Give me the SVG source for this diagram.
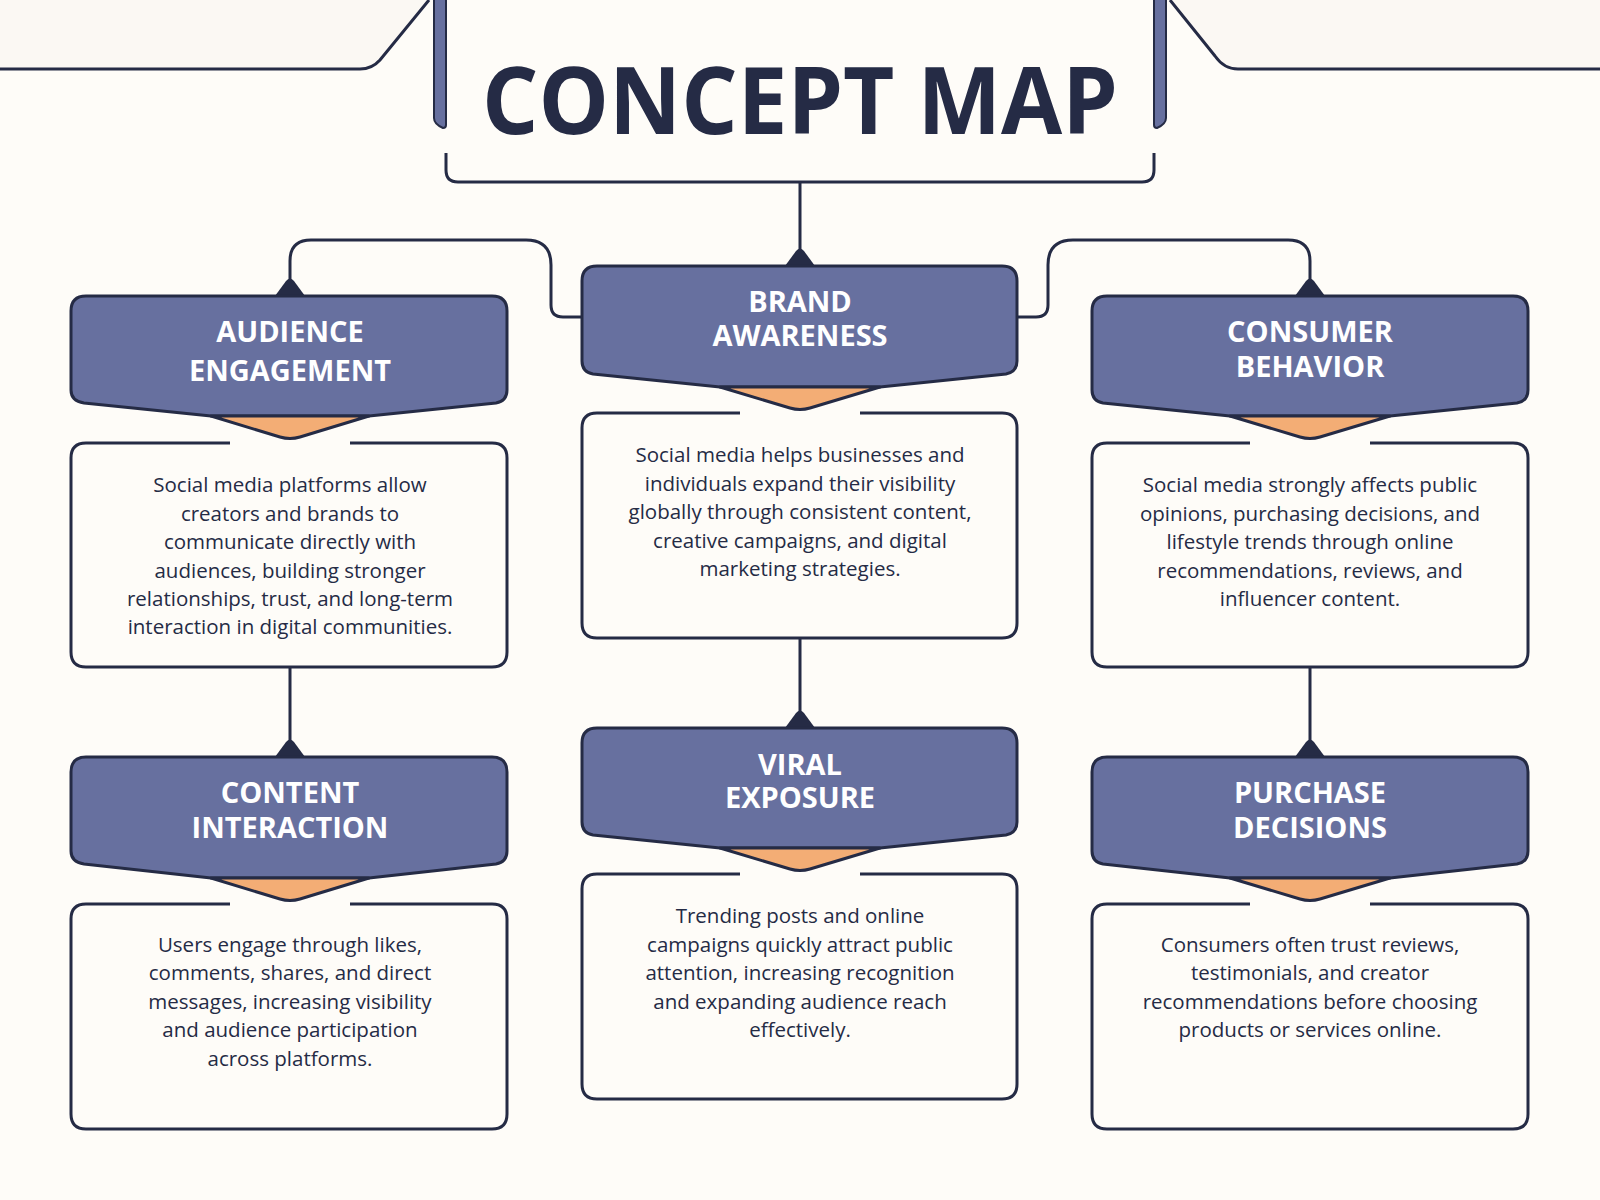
<svg xmlns="http://www.w3.org/2000/svg" width="1600" height="1200" viewBox="0 0 1600 1200">
<defs>
<style>
.hd{fill:#67709f;stroke:#252b45;stroke-width:3;stroke-linejoin:round}
.or{fill:#f3ad75;stroke:#252b45;stroke-width:3;stroke-linejoin:round}
.bx{fill:none;stroke:#252b45;stroke-width:3}
.ln{fill:none;stroke:#252b45;stroke-width:3}
.ht{font-family:"Open Sans","Liberation Sans",sans-serif;font-weight:700;font-size:29px;fill:#fff;text-anchor:middle}
.bt{font-family:"Open Sans","Liberation Sans",sans-serif;font-size:20.5px;fill:#252b45;text-anchor:middle}
.cap{fill:#252b45}
</style>
</defs>
<rect width="1600" height="1200" fill="#fefcf8"/>
<g id="decor">
<path d="M0 0 H429 L380 60 Q372 69 360 69 H0 Z" fill="#fbf8f3"/>
<path d="M0 69 H360 Q372 69 380 60 L429 0" class="ln"/>
<path d="M1600 0 H1170 L1215 56 Q1224 69 1238 69 H1600 Z" fill="#fbf8f3"/>
<path d="M1600 69 H1238 Q1224 69 1215 56 L1170 0" class="ln"/>
<path d="M434 -5 V118 Q434 124 443 128 Q446 128 446 125 V-5 Z" fill="#67709f" stroke="#252b45" stroke-width="2"/>
<path d="M1166 -5 V118 Q1166 124 1157 128 Q1154 128 1154 125 V-5 Z" fill="#67709f" stroke="#252b45" stroke-width="2"/>
<text x="800" y="134" font-family="'Open Sans','Liberation Sans',sans-serif" font-weight="700" font-size="94" fill="#252b45" text-anchor="middle" textLength="636" lengthAdjust="spacingAndGlyphs">CONCEPT MAP</text>
<path d="M446 153 V170 Q446 182 458 182 H1142 Q1154 182 1154 170 V153" class="ln"/>
</g>
<g id="connectors">
<path d="M800 182 V255" class="ln"/>
<path d="M582 317 H563 Q551 317 551 305 V265 Q551 240 526 240 H311 Q290 240 290 261 V285" class="ln"/>
<path d="M1017 317 H1036 Q1048 317 1048 305 V265 Q1048 240 1073 240 H1288 Q1310 240 1310 261 V285" class="ln"/>
<path d="M290 667 V750" class="ln"/>
<path d="M800 638 V720" class="ln"/>
<path d="M1310 667 V750" class="ln"/>
<path class="cap" d="M275 296 L286 281 Q290 276 294 281 L305 296 Z"/>
<path class="cap" d="M785 266 L796 251 Q800 246 804 251 L815 266 Z"/>
<path class="cap" d="M1295 296 L1306 281 Q1310 276 1314 281 L1325 296 Z"/>
<path class="cap" d="M275 757 L286 742 Q290 737 294 742 L305 757 Z"/>
<path class="cap" d="M785 728 L796 713 Q800 708 804 713 L815 728 Z"/>
<path class="cap" d="M1295 757 L1306 742 Q1310 737 1314 742 L1325 757 Z"/>
</g>
<g id="audience-engagement">
<path class="hd" d="M86 296 H492 Q507 296 507 311 V390 Q507 401 496 403 L369 416 H211 L84 403 Q71 401 71 390 V311 Q71 296 86 296 Z"/>
<path class="or" d="M211 416 H369 L300 437 Q290 440 280 437 Z"/>
<text class="ht" x="290" y="342">AUDIENCE</text>
<text class="ht" x="290" y="381">ENGAGEMENT</text>
<path class="bx" d="M230 443 H86 Q71 443 71 458 V652 Q71 667 86 667 H492 Q507 667 507 652 V458 Q507 443 492 443 H350"/>
<text class="bt" x="290" y="492">Social media platforms allow</text>
<text class="bt" x="290" y="520.5">creators and brands to</text>
<text class="bt" x="290" y="549">communicate directly with</text>
<text class="bt" x="290" y="577.5">audiences, building stronger</text>
<text class="bt" x="290" y="606">relationships, trust, and long-term</text>
<text class="bt" x="290" y="634">interaction in digital communities.</text>
</g>
<g id="brand-awareness">
<path class="hd" d="M597 266 H1002 Q1017 266 1017 281 V361 Q1017 372 1006 374 L880 387 H720 L593 374 Q582 372 582 361 V281 Q582 266 597 266 Z"/>
<path class="or" d="M720 387 H880 L810 408 Q800 411 790 408 Z"/>
<text class="ht" x="800" y="312">BRAND</text>
<text class="ht" x="800" y="346">AWARENESS</text>
<path class="bx" d="M740 413 H597 Q582 413 582 428 V623 Q582 638 597 638 H1002 Q1017 638 1017 623 V428 Q1017 413 1002 413 H860"/>
<text class="bt" x="800" y="462">Social media helps businesses and</text>
<text class="bt" x="800" y="491">individuals expand their visibility</text>
<text class="bt" x="800" y="519">globally through consistent content,</text>
<text class="bt" x="800" y="548">creative campaigns, and digital</text>
<text class="bt" x="800" y="576">marketing strategies.</text>
</g>
<g id="consumer-behavior">
<path class="hd" d="M1107 296 H1513 Q1528 296 1528 311 V390 Q1528 401 1517 403 L1390 416 H1230 L1103 403 Q1092 401 1092 390 V311 Q1092 296 1107 296 Z"/>
<path class="or" d="M1230 416 H1390 L1320 437 Q1310 440 1300 437 Z"/>
<text class="ht" x="1310" y="342">CONSUMER</text>
<text class="ht" x="1310" y="377">BEHAVIOR</text>
<path class="bx" d="M1250 443 H1107 Q1092 443 1092 458 V652 Q1092 667 1107 667 H1513 Q1528 667 1528 652 V458 Q1528 443 1513 443 H1370"/>
<text class="bt" x="1310" y="492">Social media strongly affects public</text>
<text class="bt" x="1310" y="520.5">opinions, purchasing decisions, and</text>
<text class="bt" x="1310" y="549">lifestyle trends through online</text>
<text class="bt" x="1310" y="577.5">recommendations, reviews, and</text>
<text class="bt" x="1310" y="606">influencer content.</text>
</g>
<g id="content-interaction">
<path class="hd" d="M86 757 H492 Q507 757 507 772 V851 Q507 862 496 864 L369 878 H211 L84 864 Q71 862 71 851 V772 Q71 757 86 757 Z"/>
<path class="or" d="M211 878 H369 L300 899 Q290 902 280 899 Z"/>
<text class="ht" x="290" y="803">CONTENT</text>
<text class="ht" x="290" y="838">INTERACTION</text>
<path class="bx" d="M230 904 H86 Q71 904 71 919 V1114 Q71 1129 86 1129 H492 Q507 1129 507 1114 V919 Q507 904 492 904 H350"/>
<text class="bt" x="290" y="952">Users engage through likes,</text>
<text class="bt" x="290" y="980">comments, shares, and direct</text>
<text class="bt" x="290" y="1009">messages, increasing visibility</text>
<text class="bt" x="290" y="1037">and audience participation</text>
<text class="bt" x="290" y="1066">across platforms.</text>
</g>
<g id="viral-exposure">
<path class="hd" d="M597 728 H1002 Q1017 728 1017 743 V822 Q1017 833 1006 835 L880 848 H720 L593 835 Q582 833 582 822 V743 Q582 728 597 728 Z"/>
<path class="or" d="M720 848 H880 L810 869 Q800 872 790 869 Z"/>
<text class="ht" x="800" y="775">VIRAL</text>
<text class="ht" x="800" y="808">EXPOSURE</text>
<path class="bx" d="M740 874 H597 Q582 874 582 889 V1084 Q582 1099 597 1099 H1002 Q1017 1099 1017 1084 V889 Q1017 874 1002 874 H860"/>
<text class="bt" x="800" y="923">Trending posts and online</text>
<text class="bt" x="800" y="952">campaigns quickly attract public</text>
<text class="bt" x="800" y="980">attention, increasing recognition</text>
<text class="bt" x="800" y="1009">and expanding audience reach</text>
<text class="bt" x="800" y="1037">effectively.</text>
</g>
<g id="purchase-decisions">
<path class="hd" d="M1107 757 H1513 Q1528 757 1528 772 V851 Q1528 862 1517 864 L1390 878 H1230 L1103 864 Q1092 862 1092 851 V772 Q1092 757 1107 757 Z"/>
<path class="or" d="M1230 878 H1390 L1320 899 Q1310 902 1300 899 Z"/>
<text class="ht" x="1310" y="803">PURCHASE</text>
<text class="ht" x="1310" y="838">DECISIONS</text>
<path class="bx" d="M1250 904 H1107 Q1092 904 1092 919 V1114 Q1092 1129 1107 1129 H1513 Q1528 1129 1528 1114 V919 Q1528 904 1513 904 H1370"/>
<text class="bt" x="1310" y="952">Consumers often trust reviews,</text>
<text class="bt" x="1310" y="980">testimonials, and creator</text>
<text class="bt" x="1310" y="1009">recommendations before choosing</text>
<text class="bt" x="1310" y="1037">products or services online.</text>
</g>
</svg>
